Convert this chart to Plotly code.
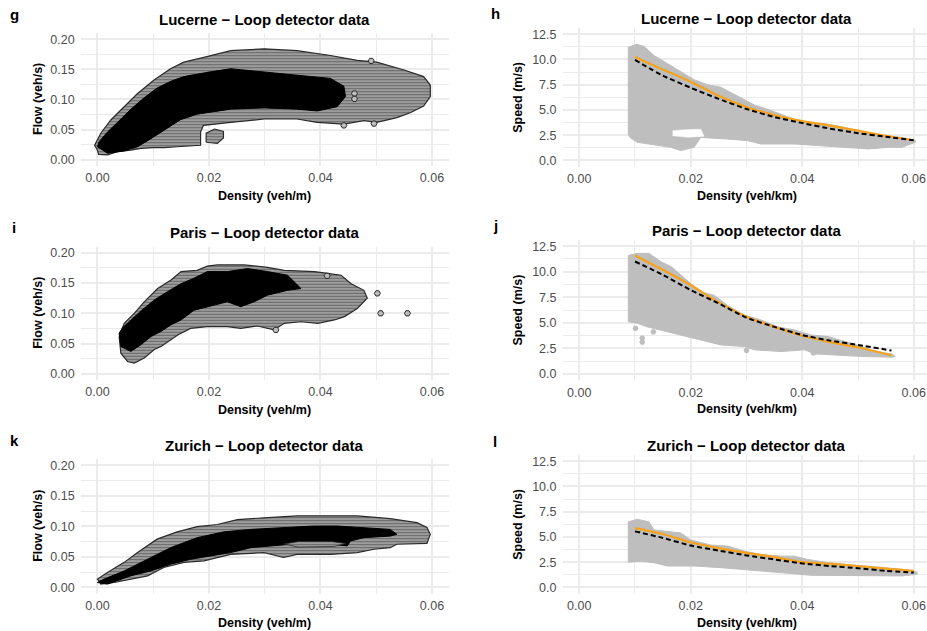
import plotly.graph_objects as go

# ---------------- data ----------------
# Left column: flow vs density hexbin clouds (outer grey region + dense black core)
g_gray_x = [0.0, 0.0002, 0.0018, 0.0036, 0.006, 0.0078, 0.0101, 0.012, 0.0143, 0.0185, 0.0185, 0.019, 0.0239, 0.0299, 0.0358, 0.0394, 0.0442, 0.0478, 0.0501, 0.0537, 0.0561, 0.0585, 0.0597, 0.0597, 0.0585, 0.055, 0.0501, 0.0466, 0.0418, 0.0358, 0.0299, 0.0239, 0.0191, 0.0155, 0.0131, 0.0101, 0.0072, 0.0048, 0.0024, 0.0006, -0.0005]
g_gray_y = [0.016, 0.009, 0.008, 0.0135, 0.016, 0.019, 0.020, 0.020, 0.0216, 0.024, 0.046, 0.057, 0.062, 0.0676, 0.0676, 0.062, 0.059, 0.065, 0.062, 0.070, 0.078, 0.089, 0.105, 0.124, 0.138, 0.149, 0.162, 0.165, 0.173, 0.181, 0.184, 0.181, 0.170, 0.162, 0.151, 0.132, 0.110, 0.088, 0.066, 0.044, 0.024]
g_lobe_x = [0.0195, 0.0215, 0.0226, 0.0226, 0.021, 0.0195]
g_lobe_y = [0.029, 0.027, 0.036, 0.047, 0.051, 0.044]
g_core_x = [0.0, 0.0018, 0.0048, 0.0072, 0.0096, 0.0119, 0.0149, 0.0179, 0.0239, 0.0299, 0.0358, 0.0394, 0.043, 0.0445, 0.0442, 0.0418, 0.0358, 0.0299, 0.0239, 0.0203, 0.0179, 0.0155, 0.0131, 0.0107, 0.0084, 0.006, 0.0036, 0.0018, 0.0003]
g_core_y = [0.0216, 0.0108, 0.0146, 0.0216, 0.035, 0.0486, 0.0665, 0.0757, 0.084, 0.086, 0.084, 0.081, 0.088, 0.105, 0.122, 0.135, 0.1405, 0.146, 0.151, 0.146, 0.142, 0.138, 0.130, 0.119, 0.103, 0.084, 0.062, 0.046, 0.030]
g_out_x = [0.0491, 0.0442, 0.0496, 0.0461, 0.0461]
g_out_y = [0.164, 0.057, 0.060, 0.110, 0.101]

i_gray_x = [0.0039, 0.0042, 0.0054, 0.0066, 0.0084, 0.0102, 0.0114, 0.0126, 0.0144, 0.0167, 0.0197, 0.0233, 0.0257, 0.0287, 0.0317, 0.0335, 0.0365, 0.0395, 0.0425, 0.0443, 0.0466, 0.0484, 0.0478, 0.0455, 0.0437, 0.0413, 0.0389, 0.0335, 0.0305, 0.0263, 0.0215, 0.0197, 0.0179, 0.0150, 0.0132, 0.0108, 0.0084, 0.0066, 0.0048]
i_gray_y = [0.0615, 0.034, 0.0203, 0.0176, 0.026, 0.040, 0.045, 0.053, 0.064, 0.075, 0.078, 0.078, 0.075, 0.079, 0.0725, 0.0835, 0.086, 0.0835, 0.089, 0.0945, 0.108, 0.125, 0.138, 0.149, 0.163, 0.166, 0.169, 0.171, 0.176, 0.180, 0.180, 0.178, 0.171, 0.169, 0.155, 0.141, 0.119, 0.100, 0.0835]
i_core_x = [0.0039, 0.0042, 0.006, 0.0078, 0.0096, 0.0114, 0.0132, 0.0150, 0.0173, 0.0197, 0.0233, 0.0257, 0.0281, 0.0305, 0.0341, 0.0365, 0.0353, 0.0341, 0.0305, 0.0269, 0.0233, 0.0197, 0.0173, 0.0150, 0.0126, 0.0102, 0.0078, 0.006, 0.0045]
i_core_y = [0.067, 0.045, 0.037, 0.048, 0.0615, 0.070, 0.081, 0.089, 0.105, 0.111, 0.119, 0.111, 0.119, 0.130, 0.138, 0.141, 0.152, 0.163, 0.169, 0.174, 0.169, 0.169, 0.158, 0.149, 0.136, 0.122, 0.104, 0.088, 0.076]
i_out_x = [0.0502, 0.0508, 0.0556, 0.0320, 0.0412]
i_out_y = [0.133, 0.100, 0.100, 0.0725, 0.162]

k_gray_x = [0.0005, 0.0006, 0.003, 0.006, 0.009, 0.0119, 0.0155, 0.0191, 0.0239, 0.0299, 0.0334, 0.0358, 0.0418, 0.0466, 0.0496, 0.0525, 0.0537, 0.0591, 0.0597, 0.0591, 0.0573, 0.0525, 0.0466, 0.0418, 0.0358, 0.0299, 0.0251, 0.0215, 0.0179, 0.0143, 0.0107, 0.0072, 0.0048, 0.0018, 0.0]
k_gray_y = [0.008, 0.0054, 0.008, 0.0136, 0.019, 0.0326, 0.041, 0.0435, 0.054, 0.057, 0.049, 0.054, 0.054, 0.057, 0.0625, 0.065, 0.0707, 0.072, 0.087, 0.098, 0.106, 0.1125, 0.117, 0.117, 0.117, 0.114, 0.111, 0.103, 0.0995, 0.091, 0.079, 0.057, 0.041, 0.0245, 0.0136]
k_core_x = [0.0, 0.0018, 0.006, 0.0096, 0.0131, 0.0167, 0.0203, 0.0239, 0.0275, 0.031, 0.0346, 0.0376, 0.0418, 0.0448, 0.0454, 0.0478, 0.0525, 0.0537, 0.0525, 0.0478, 0.043, 0.0388, 0.0328, 0.0275, 0.0227, 0.0179, 0.0131, 0.009, 0.0048, 0.0012]
k_core_y = [0.008, 0.0054, 0.019, 0.027, 0.038, 0.046, 0.0516, 0.057, 0.065, 0.068, 0.0707, 0.073, 0.0707, 0.068, 0.076, 0.0815, 0.084, 0.087, 0.095, 0.098, 0.1005, 0.1005, 0.098, 0.095, 0.091, 0.0815, 0.065, 0.046, 0.027, 0.0136]
k_hole_x = [0.0335, 0.036, 0.042, 0.0445, 0.0425, 0.036]
k_hole_y = [0.071, 0.075, 0.075, 0.072, 0.067, 0.066]

# Right column: speed vs density clouds, observed curve (orange) and model (dashed)
h_gray_x = [0.0088, 0.0103, 0.0116, 0.0134, 0.0158, 0.0182, 0.0206, 0.023, 0.0254, 0.0266, 0.029, 0.0314, 0.0338, 0.0362, 0.0386, 0.041, 0.0447, 0.0477, 0.0507, 0.0543, 0.0579, 0.0603, 0.0603, 0.0579, 0.0555, 0.0519, 0.0477, 0.0447, 0.0386, 0.0326, 0.0302, 0.0266, 0.0218, 0.0206, 0.0182, 0.0164, 0.0122, 0.0104, 0.0091, 0.0088]
h_gray_y = [11.2, 11.5, 11.3, 10.4, 9.6, 8.8, 8.0, 7.5, 7.25, 6.9, 6.2, 5.5, 5.06, 4.57, 4.08, 3.75, 3.59, 3.26, 2.77, 2.45, 2.28, 1.96, 1.8, 1.3, 1.3, 1.14, 1.3, 1.47, 1.63, 1.63, 1.96, 2.12, 2.28, 1.3, 0.98, 1.3, 1.63, 1.8, 2.28, 2.6]
h_hole_x = [0.0168, 0.0190, 0.0218, 0.0224, 0.0195, 0.0168]
h_hole_y = [2.95, 3.05, 3.1, 2.4, 2.3, 2.45]
h_obs_x = [0.010, 0.015, 0.020, 0.025, 0.030, 0.035, 0.040, 0.045, 0.050, 0.055, 0.060]
h_obs_y = [10.25, 9.0, 7.8, 6.4, 5.3, 4.5, 3.9, 3.45, 2.95, 2.45, 2.0]
h_mod_x = [0.010, 0.015, 0.020, 0.025, 0.030, 0.035, 0.040, 0.045, 0.050, 0.055, 0.060]
h_mod_y = [9.95, 8.4, 7.2, 6.1, 5.1, 4.3, 3.7, 3.15, 2.7, 2.35, 2.0]

j_gray_x = [0.0088, 0.0104, 0.0125, 0.0146, 0.0165, 0.020, 0.0218, 0.0242, 0.0266, 0.0296, 0.0326, 0.0356, 0.0386, 0.0416, 0.0447, 0.0477, 0.0507, 0.0531, 0.0561, 0.0567, 0.0561, 0.0507, 0.0447, 0.0423, 0.0404, 0.0362, 0.0314, 0.0296, 0.0254, 0.0218, 0.017, 0.0122, 0.0104, 0.0088]
j_gray_y = [11.6, 11.8, 11.8, 11.0, 10.5, 8.8, 8.0, 7.7, 6.7, 5.77, 5.28, 4.6, 4.3, 3.8, 3.65, 3.16, 2.67, 2.18, 1.95, 1.7, 1.63, 1.7, 1.86, 1.95, 2.35, 2.18, 2.35, 2.67, 2.83, 3.32, 3.97, 4.6, 4.95, 5.1]
j_out_x = [0.0101, 0.0113, 0.0113, 0.0133, 0.0300, 0.0420]
j_out_y = [4.45, 3.5, 3.1, 4.1, 2.3, 2.05]
j_obs_x = [0.010, 0.015, 0.020, 0.025, 0.030, 0.035, 0.040, 0.045, 0.050, 0.056]
j_obs_y = [11.6, 10.2, 8.7, 7.0, 5.6, 4.6, 3.75, 3.1, 2.6, 1.8]
j_mod_x = [0.010, 0.015, 0.020, 0.025, 0.030, 0.035, 0.040, 0.045, 0.050, 0.056]
j_mod_y = [11.0, 9.7, 8.2, 6.9, 5.5, 4.6, 3.8, 3.25, 2.83, 2.28]

l_gray_x = [0.0088, 0.0104, 0.0125, 0.0134, 0.0182, 0.020, 0.0236, 0.0266, 0.0296, 0.0326, 0.0362, 0.0386, 0.041, 0.0447, 0.0477, 0.0507, 0.0543, 0.0579, 0.0606, 0.0606, 0.0579, 0.0507, 0.0447, 0.0416, 0.0374, 0.0326, 0.029, 0.0254, 0.0206, 0.0158, 0.0134, 0.011, 0.0088]
l_gray_y = [6.5, 6.75, 6.5, 5.7, 5.4, 4.7, 4.2, 4.1, 3.6, 3.26, 3.1, 3.1, 2.77, 2.45, 2.28, 2.12, 2.0, 1.8, 1.53, 1.3, 1.14, 1.14, 1.2, 1.2, 1.4, 1.63, 1.8, 1.96, 2.12, 2.12, 2.45, 2.6, 2.5]
l_obs_x = [0.010, 0.015, 0.020, 0.025, 0.030, 0.035, 0.040, 0.045, 0.050, 0.055, 0.060]
l_obs_y = [5.87, 5.29, 4.47, 3.9, 3.43, 3.0, 2.5, 2.35, 2.12, 1.86, 1.63]
l_mod_x = [0.010, 0.015, 0.020, 0.025, 0.030, 0.035, 0.040, 0.045, 0.050, 0.055, 0.060]
l_mod_y = [5.55, 4.9, 4.15, 3.65, 3.17, 2.77, 2.38, 2.12, 1.9, 1.63, 1.47]

titles = ["Lucerne \u2212 Loop detector data", "Paris \u2212 Loop detector data", "Zurich \u2212 Loop detector data"]
letters_left = ["g", "i", "k"]
letters_right = ["h", "j", "l"]
x_ticks = [0, 0.02, 0.04, 0.06]
x_ticktext = ["0.00", "0.02", "0.04", "0.06"]
flow_ticks = [0, 0.05, 0.10, 0.15, 0.20]
flow_ticktext = ["0.00", "0.05", "0.10", "0.15", "0.20"]
speed_ticks = [0, 2.5, 5, 7.5, 10, 12.5]
speed_ticktext = ["0.0", "2.5", "5.0", "7.5", "10.0", "12.5"]

# ---------------- layout helpers ----------------
W, H = 927, 631
FONT = "Liberation Sans, Arial, sans-serif"
GRID = "#EBEBEB"
HEX_GREY = "#BEBEBE"
ORANGE = "#F5A21D"


def px(x):
    return x / W


def py(y):
    return 1 - y / H


# panel pixel boxes: (left, right, top, bottom)
left_boxes = [(80.7, 448.7, 32.3, 165.3), (80.7, 448.7, 246.6, 380.0), (80.7, 448.7, 459.6, 594.4)]
right_boxes = [(562.5, 927.0, 27.0, 166.3), (562.5, 927.0, 239.6, 380.4), (562.5, 927.0, 455.4, 594.6)]

fig = go.Figure()
layout = dict(
    width=W, height=H, margin=dict(l=0, r=0, t=0, b=0),
    paper_bgcolor="white", plot_bgcolor="white", showlegend=False,
    font=dict(family=FONT, color="#4D4D4D", size=12.5),
)
annotations = []


def add_axes(idx, box, xr, yr, yticks, yticktext, yminor, xminor):
    l, r, t, b = box
    xname = "xaxis" if idx == 1 else f"xaxis{idx}"
    yname = "yaxis" if idx == 1 else f"yaxis{idx}"
    xa = "x" if idx == 1 else f"x{idx}"
    ya = "y" if idx == 1 else f"y{idx}"
    layout[xname] = dict(
        domain=[px(l), px(r)], range=xr, anchor=ya, tickvals=x_ticks, ticktext=x_ticktext,
        showgrid=True, gridcolor=GRID, gridwidth=1.6, zeroline=False, showline=False,
        ticks="", ticklabelstandoff=3, tickfont=dict(size=12.5, color="#4D4D4D"),
        minor=dict(tickvals=xminor, showgrid=True, gridcolor=GRID, gridwidth=0.8),
    )
    layout[yname] = dict(
        domain=[py(b), py(t)], range=yr, anchor=xa, tickvals=yticks, ticktext=yticktext,
        showgrid=True, gridcolor=GRID, gridwidth=1.6, zeroline=False, showline=False,
        ticks="", ticklabelstandoff=5, tickfont=dict(size=12.5, color="#4D4D4D"),
        minor=dict(tickvals=yminor, showgrid=True, gridcolor=GRID, gridwidth=0.8),
    )
    return xa, ya


def poly(xs, ys, xa, ya, fill, line_color=None, line_w=0, pattern=None):
    kw = dict(x=xs + xs[:1], y=ys + ys[:1], mode="lines", fill="toself", fillcolor=fill,
              xaxis=xa, yaxis=ya, hoverinfo="skip",
              line=dict(color=line_color or fill, width=line_w))
    if pattern:
        kw["fillpattern"] = pattern
    fig.add_trace(go.Scatter(**kw))


hex_pattern = dict(shape="-", fgcolor="#1E1E1E", bgcolor="#B4B4B4", size=3, solidity=0.55)

left_data = [
    (g_gray_x, g_gray_y, g_core_x, g_core_y, g_out_x, g_out_y),
    (i_gray_x, i_gray_y, i_core_x, i_core_y, i_out_x, i_out_y),
    (k_gray_x, k_gray_y, k_core_x, k_core_y, [], []),
]
right_data = [
    (h_gray_x, h_gray_y, h_obs_x, h_obs_y, h_mod_x, h_mod_y),
    (j_gray_x, j_gray_y, j_obs_x, j_obs_y, j_mod_x, j_mod_y),
    (l_gray_x, l_gray_y, l_obs_x, l_obs_y, l_mod_x, l_mod_y),
]

flow_minor = [0.025, 0.075, 0.125, 0.175]
speed_minor = [1.25, 3.75, 6.25, 8.75, 11.25]
x_minor = [0.01, 0.03, 0.05]

for row in range(3):
    # ---- left panel ----
    box = left_boxes[row]
    xa, ya = add_axes(2 * row + 1, box, [-0.003, 0.063], [-0.01, 0.21], flow_ticks, flow_ticktext, flow_minor, x_minor)
    gx, gy, cx, cy, ox, oy = left_data[row]
    poly(gx, gy, xa, ya, "#8A8A8A", "#2A2A2A", 1.2, hex_pattern)
    if row == 0:
        poly(g_lobe_x, g_lobe_y, xa, ya, "#8A8A8A", "#2A2A2A", 1.2, hex_pattern)
    poly(cx, cy, xa, ya, "black", "black", 1.0)
    if row == 2:
        poly(k_hole_x, k_hole_y, xa, ya, "#8A8A8A", "#2A2A2A", 0.8, hex_pattern)
    if ox:
        fig.add_trace(go.Scatter(x=ox, y=oy, mode="markers", xaxis=xa, yaxis=ya, hoverinfo="skip",
                                 marker=dict(symbol="hexagon2", size=6, color="#BDBDBD",
                                             line=dict(color="#2A2A2A", width=1))))
    l, r, t, b = box
    cxp = (l + r) / 2
    annotations.append(dict(text="<b>" + titles[row] + "</b>", x=px(cxp), y=py(t - 14), xref="paper", yref="paper",
                            showarrow=False, font=dict(size=15, color="black", family=FONT), xanchor="center", yanchor="middle"))
    annotations.append(dict(text="<b>Flow (veh/s)</b>", x=px(38.5), y=py((t + b) / 2), xref="paper", yref="paper",
                            showarrow=False, textangle=-90, font=dict(size=12.5, color="black", family=FONT),
                            xanchor="center", yanchor="middle"))
    annotations.append(dict(text="<b>Density (veh/m)</b>", x=px(cxp), y=py(b + 30), xref="paper", yref="paper",
                            showarrow=False, font=dict(size=12.5, color="black", family=FONT),
                            xanchor="center", yanchor="middle"))
    annotations.append(dict(text="<b>" + letters_left[row] + "</b>", x=px(14), y=py(t - 19), xref="paper", yref="paper",
                            showarrow=False, font=dict(size=15, color="black", family=FONT),
                            xanchor="center", yanchor="middle"))

    # ---- right panel ----
    box = right_boxes[row]
    full_r = box[0] + 368.0
    xr = [-0.003, -0.003 + (box[1] - box[0]) / 368.0 * 0.066]
    xa, ya = add_axes(2 * row + 2, box, xr, [-0.625, 13.125], speed_ticks, speed_ticktext, speed_minor, x_minor)
    gx, gy, ox_, oy_, mx, my = right_data[row]
    poly(gx, gy, xa, ya, HEX_GREY, HEX_GREY, 1.0)
    if row == 0:
        poly(h_hole_x, h_hole_y, xa, ya, "white", "white", 0.5)
    if row == 1:
        fig.add_trace(go.Scatter(x=j_out_x, y=j_out_y, mode="markers", xaxis=xa, yaxis=ya, hoverinfo="skip",
                                 marker=dict(symbol="hexagon2", size=6, color=HEX_GREY, line=dict(width=0))))
    fig.add_trace(go.Scatter(x=ox_, y=oy_, mode="lines", xaxis=xa, yaxis=ya, hoverinfo="skip",
                             line=dict(color=ORANGE, width=2.2, shape="spline", smoothing=0.6)))
    fig.add_trace(go.Scatter(x=mx, y=my, mode="lines", xaxis=xa, yaxis=ya, hoverinfo="skip",
                             line=dict(color="black", width=2, dash="5px,3px", shape="spline", smoothing=0.6)))
    l, r, t, b = box
    cxp = (l + full_r) / 2
    annotations.append(dict(text="<b>" + titles[row] + "</b>", x=px(cxp), y=py(t - 9), xref="paper", yref="paper",
                            showarrow=False, font=dict(size=15, color="black", family=FONT), xanchor="center", yanchor="middle"))
    annotations.append(dict(text="<b>Speed (m/s)</b>", x=px(518.5), y=py((t + b) / 2), xref="paper", yref="paper",
                            showarrow=False, textangle=-90, font=dict(size=12.5, color="black", family=FONT),
                            xanchor="center", yanchor="middle"))
    annotations.append(dict(text="<b>Density (veh/km)</b>", x=px(cxp), y=py(b + 29), xref="paper", yref="paper",
                            showarrow=False, font=dict(size=12.5, color="black", family=FONT),
                            xanchor="center", yanchor="middle"))
    annotations.append(dict(text="<b>" + letters_right[row] + "</b>", x=px(495), y=py(t - 14), xref="paper", yref="paper",
                            showarrow=False, font=dict(size=15, color="black", family=FONT),
                            xanchor="center", yanchor="middle"))

layout["annotations"] = annotations
fig.update_layout(**layout)
fig.write_html("out.html", config={"displayModeBar": False},
               post_script="document.body.style.margin='0';")
